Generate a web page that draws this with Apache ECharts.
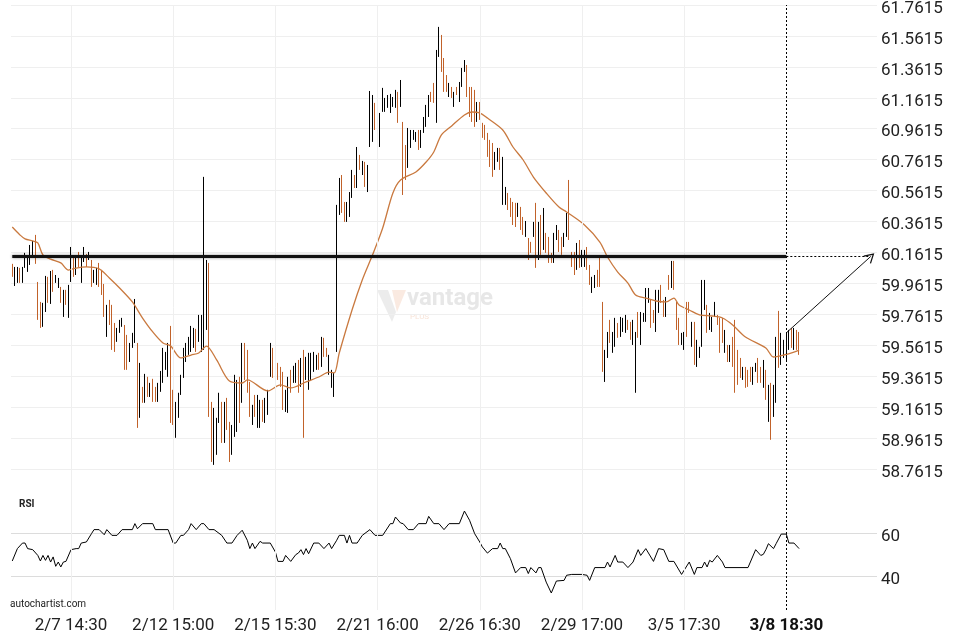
<!DOCTYPE html>
<html><head><meta charset="utf-8">
<script src="https://cdn.jsdelivr.net/npm/echarts/dist/echarts.min.js"></script>
<style>html,body{margin:0;padding:0;background:#fff}#c{width:960px;height:640px}</style>
</head><body><div id="c"></div>
<script>
// ---- data ----
const tickLabels = ['2/7 14:30','2/12 15:00','2/15 15:30','2/21 16:00','2/26 16:30','2/29 17:00','3/5 17:30','3/8 18:30'];
const tickIndex = [23,63,103,143,183,223,263,303];

const highs = [
60.089,60.069,60.069,60.063,60.069,60.160,60.140,60.211,60.237,60.276,
59.972,59.843,59.837,60.011,60.005,60.043,60.050,60.017,59.998,59.940,
59.921,59.921,59.953,60.198,60.134,60.134,60.166,60.134,60.198,60.153,
60.166,60.114,60.050,60.063,60.095,60.050,59.959,59.824,59.856,59.824,
59.707,59.675,59.727,59.740,59.694,59.630,59.578,59.643,59.862,59.578,
59.449,59.294,59.378,59.359,59.320,59.346,59.294,59.320,59.397,59.546,
59.520,59.578,59.688,59.275,59.197,59.256,59.372,59.546,59.578,59.617,
59.688,59.675,59.669,59.759,59.759,60.651,60.114,60.095,59.197,59.158,
59.094,59.256,59.197,59.197,59.223,59.068,59.048,59.372,59.339,59.359,
59.578,59.578,59.533,59.326,59.178,59.242,59.242,59.210,59.210,59.223,
59.275,59.578,59.546,59.455,59.449,59.423,59.391,59.275,59.359,59.404,
59.430,59.449,59.468,59.481,59.533,59.488,59.514,59.514,59.520,59.501,
59.514,59.617,59.611,59.546,59.501,59.404,59.385,60.470,60.644,60.663,
60.489,60.489,60.553,60.696,60.663,60.844,60.793,60.754,60.748,60.728,
61.206,61.180,61.129,61.038,61.064,61.226,61.161,61.180,61.187,61.167,
61.213,61.200,61.277,61.006,60.857,60.967,60.954,60.954,60.941,60.954,
60.954,61.038,61.116,61.180,61.200,61.258,61.471,61.620,61.568,61.419,
61.309,61.258,61.232,61.200,61.232,61.264,61.355,61.406,61.374,61.232,
61.232,61.213,61.135,61.135,61.000,60.987,60.935,60.890,60.870,60.812,
60.838,60.838,60.780,60.586,60.547,60.515,60.489,60.483,60.483,60.457,
60.392,60.366,60.256,60.231,60.360,60.483,60.360,60.405,60.450,60.289,
60.263,60.160,60.289,60.340,60.308,60.263,60.289,60.418,60.631,60.166,
60.166,60.224,60.243,60.179,60.179,60.198,60.082,60.005,60.017,60.050,
60.134,59.843,59.533,59.649,59.727,59.649,59.740,59.707,59.746,59.740,
59.759,59.727,59.714,59.727,59.649,59.778,59.778,59.772,59.933,59.933,
59.856,59.791,59.921,59.921,59.953,59.856,59.875,60.017,60.108,60.108,
59.843,59.740,59.643,59.649,59.843,59.843,59.714,59.714,59.598,59.553,
59.985,59.985,59.824,59.772,59.746,59.843,59.759,59.740,59.740,59.662,
59.565,59.565,59.617,59.727,59.533,59.481,59.423,59.423,59.404,59.423,
59.423,59.449,59.481,59.423,59.468,59.404,59.307,59.320,59.307,59.617,
59.785,59.643,59.598,59.643,59.662,59.675,59.675,59.662,59.649];

const lows = [
60.005,59.946,59.966,59.966,59.966,60.063,60.037,60.082,60.127,60.089,
59.727,59.675,59.682,59.778,59.837,59.830,59.908,59.966,59.933,59.837,
59.746,59.824,59.740,59.972,60.005,60.017,60.069,59.966,60.101,60.069,
60.114,59.940,59.966,59.953,59.940,59.888,59.746,59.617,59.694,59.533,
59.520,59.585,59.643,59.682,59.404,59.404,59.455,59.546,59.578,59.029,
59.094,59.191,59.191,59.229,59.229,59.197,59.197,59.197,59.262,59.320,
59.404,59.359,59.061,59.048,58.965,59.094,59.242,59.352,59.455,59.501,
59.520,59.546,59.520,59.585,59.520,59.533,59.662,59.100,58.809,58.790,
58.855,59.061,58.932,58.932,59.016,58.809,58.855,58.971,59.003,59.061,
59.191,59.339,59.256,59.100,59.048,59.100,59.029,59.029,59.068,59.061,
59.113,59.359,59.352,59.339,59.339,59.294,59.145,59.132,59.126,59.256,
59.320,59.320,59.256,59.294,58.965,59.339,59.275,59.339,59.391,59.404,
59.404,59.423,59.488,59.488,59.372,59.288,59.229,59.520,60.405,60.418,
60.360,60.360,60.392,60.515,60.579,60.579,60.696,60.663,60.586,60.553,
60.844,60.877,60.954,60.909,60.844,61.071,61.071,61.097,61.064,61.103,
61.097,61.000,61.103,60.534,60.631,60.709,60.838,60.890,60.877,60.825,
60.838,60.935,60.974,61.038,61.135,61.129,61.000,61.426,61.329,61.200,
61.200,61.167,61.161,61.103,61.180,61.135,61.232,61.329,61.167,61.038,
61.006,60.974,61.006,61.019,60.903,60.890,60.780,60.715,60.651,60.696,
60.748,60.696,60.470,60.470,60.437,60.392,60.340,60.327,60.392,60.308,
60.276,60.263,60.114,60.160,60.263,60.063,60.114,60.147,60.179,60.160,
60.095,60.095,60.095,60.243,60.166,60.147,60.198,60.263,60.243,60.069,
60.017,60.050,60.063,60.069,60.069,60.050,59.953,59.901,59.933,59.940,
59.940,59.391,59.326,59.481,59.578,59.514,59.553,59.611,59.617,59.649,
59.643,59.662,59.598,59.565,59.256,59.611,59.565,59.714,59.714,59.837,
59.675,59.707,59.649,59.772,59.837,59.746,59.746,59.921,59.933,59.921,
59.662,59.565,59.565,59.533,59.617,59.772,59.553,59.436,59.423,59.481,
59.553,59.791,59.643,59.662,59.649,59.746,59.694,59.514,59.578,59.514,
59.455,59.455,59.423,59.256,59.307,59.352,59.339,59.288,59.294,59.326,
59.307,59.391,59.320,59.320,59.288,59.210,59.068,58.952,59.100,59.191,
59.417,59.436,59.481,59.468,59.533,59.546,59.533,59.533,59.501];

// B = rising (black) bar, O = falling (orange) bar
const dirs =
"OBBOBBBBBO"+"OOBBOBOBBO"+"BOBBOBOBBO"+"BOBBOOOBOO"+"OBBBOOBBBO"+
"BOBOBOOBBB"+"BBOOBBBBBB"+"BBOBBBBOOB"+"BBOBOOBBBO"+"BOOOBOBBOB"+
"BBOOOOOBBO"+"BBOBOBBBBB"+"OBOOBBBBBO"+"OBBBOBOBOB"+"BBOOBBBBBB"+
"BOBOOBBBBO"+"BBBBOOBBOO"+"OBOBOBBBOO"+"OOBOOOOOOB"+"BOBBOOOOBO"+
"OBOOBOBOBO"+"OOBBOOBBOO"+"OBOBBOOBBO"+"OOBBOBBOBB"+"BOOBBOBBBB"+
"OOBBOOBOBO"+"OOBBOOBOBB"+"BBOBBBOOOB"+"OBOOOOBOOO"+"BBOOBOBOBB"+
"OBBBBOBOO";

const maIdx = [0,3,5,8,10,12,15,19,22,25,29,34,38,42,47,51,55,59,62,66,70,73,76,80,85,90,92,100,105,109,115,120,124,126,128,133,137,141,145,149,152,158,162,165,168,172,177,180,183,186,192,196,200,204,209,214,217,224,230,233,237,241,244,248,252,256,259,261,265,269,274,278,282,287,295,298,302,306,308];
const maVal = [60.327,60.276,60.250,60.237,60.224,60.146,60.120,60.095,60.049,60.062,60.069,60.056,59.998,59.933,59.843,59.739,59.649,59.578,59.558,59.481,59.500,59.513,59.558,59.468,59.332,59.319,59.339,59.268,59.307,59.287,59.326,59.358,59.390,59.384,59.513,59.791,59.985,60.146,60.321,60.547,60.631,60.683,60.747,60.812,60.922,60.980,61.051,61.070,61.064,61.031,60.954,60.844,60.760,60.650,60.547,60.456,60.424,60.340,60.230,60.133,60.036,59.965,59.888,59.868,59.849,59.843,59.868,59.823,59.791,59.759,59.752,59.739,59.694,59.616,59.545,59.487,59.500,59.519,59.532];

const rsiIdx = [0,2,4,5,6,8,10,11,12,13,14,15,16,17,18,19,20,21,23,25,26,27,29,31,32,34,36,37,39,41,43,47,48,49,51,55,56,61,63,64,66,67,69,70,72,74,75,77,79,82,84,86,88,90,92,93,94,95,97,98,101,103,104,106,107,109,111,112,113,114,115,116,118,120,122,124,125,127,128,130,131,132,133,135,137,140,142,145,148,149,150,152,153,155,157,159,162,163,165,167,169,171,175,177,179,181,183,184,186,188,190,191,192,193,195,197,199,201,202,203,205,206,207,209,211,213,216,217,219,223,225,226,228,232,233,234,236,237,239,241,243,245,246,248,251,253,255,257,259,262,265,267,268,270,271,272,273,274,276,278,279,288,291,293,294,295,296,298,299,301,303,304,306,308];
const rsiVal = [47.2,53.0,55.6,55.6,53.0,52.5,49.8,47.2,49.8,47.5,49.8,46.7,49.1,44.7,46.7,44.4,46.7,47.0,52.5,53.0,53.0,55.6,56.1,60.0,61.9,61.9,59.5,61.9,59.2,59.2,61.9,61.9,64.7,62.3,64.7,64.7,61.9,61.9,55.6,55.6,59.2,59.2,61.9,64.7,61.9,64.7,64.7,61.9,61.9,59.2,55.6,55.6,59.2,61.6,56.9,53.0,55.6,53.0,56.4,55.6,55.6,51.4,47.0,47.0,49.8,47.0,50.2,50.9,52.5,50.2,53.0,50.6,55.6,55.6,53.0,55.6,53.0,56.9,59.2,59.2,55.6,59.2,55.6,55.6,59.2,61.9,59.2,59.2,64.7,64.7,67.8,65.0,64.7,61.9,61.9,64.7,64.7,68.1,64.7,64.7,61.9,64.7,64.7,70.6,66.3,60.0,56.1,53.8,50.9,53.0,53.0,55.6,53.0,53.0,48.3,41.6,44.1,44.1,41.3,44.1,41.6,44.1,44.1,37.3,32.2,37.8,38.1,40.5,40.9,40.9,40.5,38.1,44.1,44.1,46.7,44.4,49.8,46.7,46.7,44.1,46.7,52.5,49.8,53.0,47.0,53.0,52.5,47.0,47.0,40.9,46.7,40.9,44.1,44.1,46.7,44.4,47.5,46.7,49.8,46.7,44.1,44.1,52.5,49.8,50.3,52.5,55.3,53.0,55.3,59.8,59.8,55.6,55.6,53.0];

const level = 60.136;        // resistance level
const arrowStartValue = 59.643;
const signalIndex = 303;     // 3/8 18:30 bar
const arrowEndIndex = 336;
const yMin = 58.7615, yMax = 61.7615, yStep = 0.2;

// ---- build ----
const SLOTS = 339;
const cats = Array.from({length: SLOTS}, (_, i) => String(i));
const labelAt = {};
tickIndex.forEach((t, k) => { labelAt[t] = tickLabels[k]; });
const isTick = (i) => labelAt[i] !== undefined;
const candles = highs.map((h, i) => dirs[i] === 'B' ? [lows[i], h, lows[i], h] : [h, lows[i], lows[i], h]);
const maData = maIdx.map((x, k) => [x, maVal[k]]);
const rsiData = rsiIdx.map((x, k) => [x, rsiVal[k]]);
const priceLabel = (v) => '{p|' + (yMin + Math.round((v - yMin) / yStep) * yStep).toFixed(4) + '}';

const FONT = 'Roboto, "Noto Sans", sans-serif';
const ORANGE = '#c1622a';
const GRIDC = '#efefef';
const labelRich = {p:{fontSize:17, color:'#222', fontFamily:FONT, padding:[7,0,0,0]}};
const hiddenX = (gi) => ({type:'category', gridIndex:gi, data:cats, boundaryGap:true,
  axisLine:{show:false}, axisTick:{show:false}, axisLabel:{show:false}, splitLine:{show:false}});

const vGrid = tickIndex.filter(t => t !== signalIndex).map(t => ({xAxis:t, lineStyle:{color:GRIDC, width:1, type:'solid'}}));

const chart = echarts.init(document.getElementById('c'), null, {renderer:'canvas'});
chart.setOption({
  animation:false,
  backgroundColor:'#ffffff',
  grid:[
    {left:11, right:83, top:5, height:464.3, outerBoundsMode:'none'},
    {left:11, right:83, top:491, height:128, outerBoundsMode:'none'},
    {left:11, right:83, top:5, height:605, outerBoundsMode:'none'}
  ],
  xAxis:[
    hiddenX(0), hiddenX(1),
    {type:'category', gridIndex:2, data:cats, boundaryGap:true,
     axisLine:{show:false}, axisTick:{show:false},
     axisLabel:{interval:(i)=>isTick(i), margin:7, fontSize:17, color:'#222', fontFamily:FONT,
       formatter:(v)=> v === String(signalIndex) ? '{b|' + labelAt[v] + '}' : (labelAt[v] || ''),
       rich:{b:{fontWeight:'bold', fontSize:17, color:'#111', fontFamily:FONT}}},
     splitLine:{show:false}}
  ],
  yAxis:[
    {type:'value', gridIndex:0, position:'right', min:yMin, max:yMax, interval:yStep,
     axisLine:{show:false}, axisTick:{show:false},
     axisLabel:{formatter:priceLabel, margin:4, rich:labelRich},
     splitLine:{show:true, lineStyle:{color:GRIDC, width:1}}},
    {type:'value', gridIndex:1, position:'right', min:20, max:80, interval:20,
     axisLine:{show:false}, axisTick:{show:false},
     axisLabel:{formatter:(v)=> (v===40||v===60) ? '{p|' + v + '}' : '', margin:4, rich:labelRich},
     splitLine:{show:true, showMinLine:false, showMaxLine:false, lineStyle:{color:'#dcdcdc', width:1}}},
    {type:'value', gridIndex:2, min:0, max:1, show:false}
  ],
  series:[
    {type:'line', xAxisIndex:2, yAxisIndex:2, data:[[signalIndex, 0.5]], showSymbol:false, silent:true,
     lineStyle:{opacity:0}, z:0,
     markLine:{silent:true, animation:false, symbol:['none','none'], label:{show:false},
       data:vGrid}},
    {type:'candlestick', xAxisIndex:0, yAxisIndex:0, data:candles, barWidth:1,
     itemStyle:{color:'#000', color0:ORANGE, borderColor:'#000', borderColor0:ORANGE, borderWidth:1},
     markLine:{silent:true, animation:false, symbol:['none','none'], label:{show:false},
       emphasis:{disabled:true},
       data:[
         [{coord:[0, level], lineStyle:{color:'#111', width:3, type:'solid', shadowColor:'rgba(0,0,0,0.45)', shadowBlur:3}},
          {coord:[signalIndex, level]}],
         [{coord:[signalIndex, level], lineStyle:{color:'#000', width:1, type:[2,2]}},
          {coord:[arrowEndIndex, level]}],
         [{coord:[signalIndex, arrowStartValue], symbol:'none', lineStyle:{color:'#111', width:1, type:'solid'}},
          {coord:[arrowEndIndex, level], symbol:'path://M5,0 L10,9 L9,9.6 L5,2.4 L1,9.6 L0,9 Z', symbolSize:[11,10]}]
       ]}},
    {type:'line', xAxisIndex:0, yAxisIndex:0, data:maData, showSymbol:false, smooth:0.3,
     lineStyle:{color:'#c9793f', width:1.3}, silent:true, z:3},
    {type:'line', xAxisIndex:1, yAxisIndex:1, data:rsiData, showSymbol:false,
     lineStyle:{color:'#000', width:1}, silent:true},
    {type:'line', xAxisIndex:2, yAxisIndex:2, data:[[signalIndex, 0.5]], showSymbol:false, silent:true,
     lineStyle:{opacity:0}, z:5,
     markLine:{silent:true, animation:false, symbol:['none','none'], label:{show:false},
       lineStyle:{color:'#000', width:1, type:[2,2]},
       data:[{xAxis:signalIndex}]}}
  ],
  graphic:[
    {type:'polygon', silent:true, shape:{points:[[377,290],[388,290],[396,312],[392,322]]}, style:{fill:'rgba(170,170,170,0.22)'}},
    {type:'polygon', silent:true, shape:{points:[[392,290],[406,290],[397,312]]}, style:{fill:'rgba(230,160,120,0.22)'}},
    {type:'text', silent:true, left:407, top:287, style:{text:'vantage', fontSize:24, fontWeight:'bold', fontFamily:FONT, fill:'rgba(170,170,170,0.28)'}},
    {type:'text', silent:true, left:410, top:313, style:{text:'PLUS', fontSize:8, fontFamily:FONT, fill:'rgba(230,160,120,0.3)'}},
    {type:'text', silent:true, left:19, top:499, style:{text:'RSI', fontSize:10, fontWeight:'bold', fontFamily:FONT, fill:'#222'}},
    {type:'text', silent:true, left:10, top:599, style:{text:'autochartist.com', fontSize:10, fontFamily:FONT, fill:'#222'}}
  ]
});
</script>
</body></html>
